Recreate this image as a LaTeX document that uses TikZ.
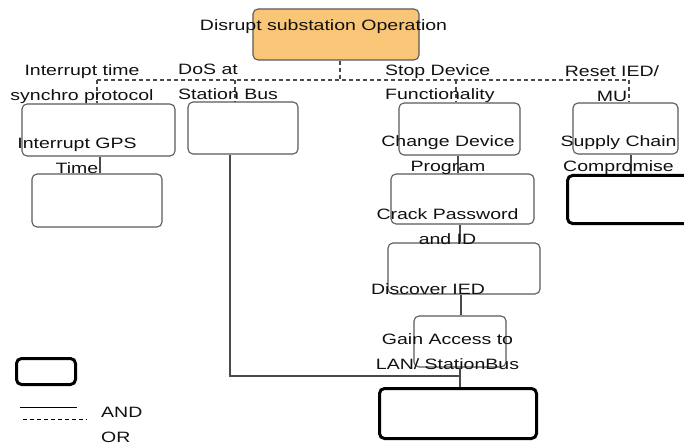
\documentclass[tikz,border=0pt]{standalone}
\usepackage{fontspec}
\setmainfont{Liberation Sans}[FakeStretch=1.3]
\definecolor{boxgray}{HTML}{5A5A5A}
\definecolor{linegray}{HTML}{4A4A4A}
\definecolor{txt}{HTML}{111111}
\definecolor{goalfill}{HTML}{F8C676}
\begin{document}
\begin{tikzpicture}[x=1pt,y=-1pt,
  box/.style={draw=boxgray, line width=1.1pt, rounded corners=5pt, inner sep=0pt},
  goal/.style={draw=black, line width=3pt, rounded corners=5pt, inner sep=0pt},
  lbl/.style={font=\fontsize{15}{24.5}\selectfont, text=txt, inner sep=0pt},
  andline/.style={draw=linegray, line width=1.3pt},
  orline/.style={draw=linegray, line width=1.1pt, dash pattern=on 4pt off 3pt}]
\clip (0,0) rectangle (684,446);
\fill[white] (0,0) rectangle (684,446);
% boxes
\node[box, fill=goalfill, minimum width=166pt, minimum height=51pt] (top) at (336,34.5) {};
\node[box, minimum width=153pt, minimum height=52pt] (A1) at (98.5,130) {};
\node[box, minimum width=110pt, minimum height=52pt] (A2) at (243,128) {};
\node[box, minimum width=121pt, minimum height=52pt] (C1) at (459.5,129) {};
\node[box, minimum width=105pt, minimum height=51pt] (D1) at (625.5,128.5) {};
\node[box, minimum width=130pt, minimum height=53pt] (A3) at (97,200.5) {};
\node[box, minimum width=143pt, minimum height=50pt] (C2) at (462.5,199) {};
\node[goal, minimum width=125pt, minimum height=48pt] (D2) at (630,199.5) {};
\node[box, minimum width=152pt, minimum height=51pt] (C3) at (464,268.5) {};
\node[box, minimum width=92pt, minimum height=51pt] (C4) at (460,341.5) {};
\node[goal, minimum width=157pt, minimum height=50pt] (C5) at (458,413.5) {};
\node[goal, minimum width=59pt, minimum height=26pt] (leg) at (46,371.5) {};
% OR tree
\coordinate (j0) at (340,80);
\coordinate (jL) at (97,80);
\coordinate (jB) at (235,80);
\coordinate (jC) at (456,80);
\coordinate (jR) at (629,80);
\draw[orline] (top.south -| j0) -- (j0);
\draw[orline] (jL) -- (jR);
\draw[orline] (jL) -- (A1.north -| jL);
\draw[orline] (jB) -- (A2.north -| jB);
\draw[orline] (jC) -- (C1.north -| jC);
\draw[orline] (jR) -- (D1.north -| jR);
% AND links
\coordinate (xa) at (100,0);
\coordinate (xc1) at (458,0);
\coordinate (xc2) at (460,0);
\coordinate (xc3) at (461,0);
\coordinate (xd) at (631,0);
\coordinate (xb) at (230,0);
\coordinate (mj) at (460,376);
\draw[andline] (A1.south -| xa) -- (A3.north -| xa);
\draw[andline] (C1.south -| xc1) -- (C2.north -| xc1);
\draw[andline] (C2.south -| xc2) -- (C3.north -| xc2);
\draw[andline] (C3.south -| xc3) -- (C4.north -| xc3);
\draw[andline] (C4.south -| xc2) -- (C5.north -| xc2);
\draw[andline] (D1.south -| xd) -- (D2.north -| xd);
\draw[andline] (A2.south -| xb) |- (mj);
% labels
\node[lbl] (t0) at (323.5,26.5) {Disrupt substation Operation};
\node[lbl, align=center] (t1) at (82,84) {Interrupt time\\synchro protocol};
\node[lbl, align=left, anchor=west] (t2) at (178,82) {DoS at\\Station Bus};
\node[lbl, align=left, anchor=west] (t3) at (385,83.5) {Stop Device\\Functionality};
\node[lbl, align=center] (t4) at (612,83.5) {Reset IED/\\MU};
\node[lbl, align=center] (t5) at (77,156) {Interrupt GPS\\Time};
\node[lbl, align=center] (t6) at (448,155) {Change Device\\Program};
\node[lbl, align=center] (t7) at (618.5,155) {Supply Chain\\Compromise};
\node[lbl, align=center] (t8) at (447.5,226.5) {Crack Password\\and ID};
\node[lbl] (t9) at (428,289.5) {Discover IED};
\node[lbl, align=center] (t10) at (447.5,351.5) {Gain Access to\\LAN/ StationBus};
% legend
\coordinate (la1) at (20,407);
\coordinate (la2) at (77,407);
\coordinate (lo1) at (23,419);
\coordinate (lo2) at (87,419);
\draw[draw=black, line width=1pt] (la1) -- (la2);
\draw[draw=black, line width=1pt, dash pattern=on 4pt off 3pt] (lo1) -- (lo2);
\node[lbl, anchor=west] (tand) at (101,412.5) {AND};
\node[lbl, anchor=west] (tor) at (101,437.5) {OR};
\end{tikzpicture}
\end{document}
